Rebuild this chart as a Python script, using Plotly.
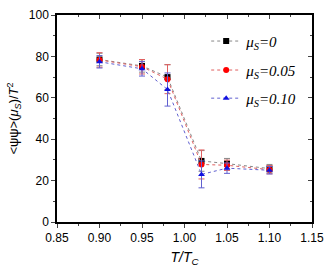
import plotly.graph_objects as go

x = [0.90, 0.95, 0.98, 1.02, 1.05, 1.10]
y_mu0 = [78.5, 75.4, 70.0, 29.5, 28.2, 25.8]
e_mu0 = [3.0, 3.0, 6.0, 5.0, 2.5, 2.0]
y_mu005 = [78.3, 75.0, 69.0, 27.8, 27.4, 25.3]
e_mu005 = [3.5, 3.5, 7.0, 7.0, 2.5, 2.0]
y_mu010 = [77.4, 74.0, 64.0, 23.0, 26.0, 25.0]
e_mu010 = [3.0, 3.5, 8.0, 6.5, 2.5, 1.8]
labels = ["<i>μ<sub>S</sub>=0</i>", "<i>μ<sub>S</sub>=0.05</i>", "<i>μ<sub>S</sub>=0.10</i>"]

series = [
    (y_mu0, e_mu0, "black", "#888888", "square", labels[0], "legend"),
    (y_mu005, e_mu005, "red", "#e06060", "circle", labels[1], "legend2"),
    (y_mu010, e_mu010, "#1010e0", "#6060d0", "triangle-up", labels[2], "legend3"),
]

fig = go.Figure()
for ys, es, mc, lc, sym, name, lg in series:
    fig.add_trace(go.Scatter(
        x=x, y=ys, mode="lines+markers", name=name, legend=lg,
        marker=dict(color=mc, symbol=sym, size=6),
        line=dict(color=lc, width=1, dash="dot"),
        error_y=dict(type="data", array=es, color=lc, thickness=1, width=3),
    ))

# invisible trace for mirror axes
fig.add_trace(go.Scatter(x=[0.85], y=[0], xaxis="x2", yaxis="y2",
                         mode="markers", marker=dict(opacity=0), showlegend=False,
                         hoverinfo="skip"))

legfont = dict(family="Liberation Serif", size=15, color="black")
def leg(yy):
    return dict(x=0.585, y=yy, xanchor="left", yanchor="middle",
                bgcolor="rgba(0,0,0,0)", font=legfont)

fig.update_layout(
    width=332, height=269,
    margin=dict(l=57, r=20, t=15, b=47),
    paper_bgcolor="white", plot_bgcolor="white",
    font=dict(family="Liberation Sans, Arial", size=12, color="black"),
    showlegend=True,
    legend=leg(0.873), legend2=leg(0.733), legend3=leg(0.597),
    xaxis=dict(range=[0.85, 1.15], tickvals=[0.85, 0.90, 0.95, 1.00, 1.05, 1.10, 1.15],
               ticktext=["0.85", "0.90", "0.95", "1.00", "1.05", "1.10", "1.15"],
               ticks="outside", ticklen=4, tickwidth=1, showline=True, linecolor="black",
               linewidth=1.5, showgrid=False, zeroline=False, automargin=False,
               minor=dict(dtick=0.025, tick0=0.85, ticks="outside", ticklen=2),
               title=dict(text="<i>T/T<sub>C</sub></i>", standoff=8, font=dict(size=14))),
    yaxis=dict(range=[0, 100], dtick=20, ticks="outside", ticklen=4, tickwidth=1,
               showline=True, linecolor="black", linewidth=1.5, showgrid=False,
               zeroline=False, automargin=False,
               minor=dict(dtick=10, ticks="outside", ticklen=2),
               title=dict(text="<ψψ>(<i>μ<sub>S</sub></i>)/<i>T</i><sup>2</sup>", standoff=7,
                          font=dict(size=13))),
    xaxis2=dict(range=[0.85, 1.15], overlaying="x", side="top", anchor="y", dtick=0.05, tick0=0.85,
                ticks="inside", ticklen=4, showticklabels=False, showline=True,
                linecolor="black", linewidth=1.5, showgrid=False, zeroline=False,
                minor=dict(dtick=0.025, tick0=0.85, ticks="inside", ticklen=2)),
    yaxis2=dict(range=[0, 100], overlaying="y", side="right", anchor="x", dtick=20,
                ticks="inside", ticklen=4, showticklabels=False, showline=True,
                linecolor="black", linewidth=1.5, showgrid=False, zeroline=False,
                minor=dict(dtick=10, ticks="inside", ticklen=2)),
)

fig.write_html("out.html", config={"displayModeBar": False},
               post_script="document.body.style.margin='0';")
